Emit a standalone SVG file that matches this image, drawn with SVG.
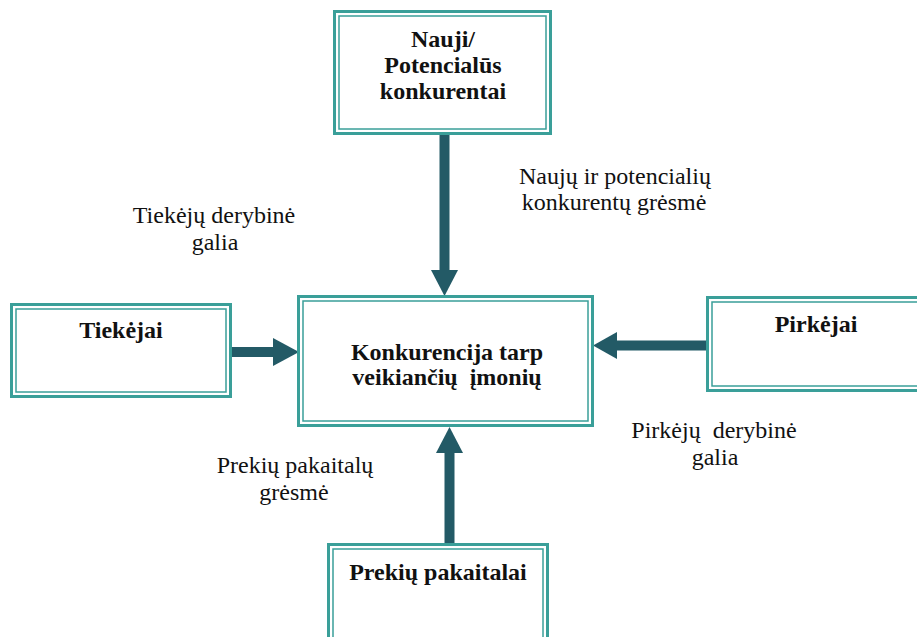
<svg xmlns="http://www.w3.org/2000/svg" width="917" height="637" viewBox="0 0 917 637">
<style>
.o{fill:#fff;stroke:#3a9f99;stroke-width:3}
.i{fill:none;stroke:#3a9f99;stroke-width:1.5}
text{font-family:'Liberation Serif','Times New Roman',Tinos,'Noto Serif','DejaVu Serif',serif;font-size:24px;fill:#111;text-anchor:middle}
.b{font-weight:bold}
.s{fill:none;stroke:#235a66;stroke-width:10}
.h{fill:#235a66}
</style>
<rect width="917" height="637" fill="#fff"/>
<g id="connectors">
<line class="s" x1="444.5" y1="135" x2="444.5" y2="272"/>
<polygon class="h" points="431,270 458,270 444.5,296"/>
<line class="s" x1="232" y1="352" x2="275" y2="352"/>
<polygon class="h" points="273,338 273,366 299,352"/>
<line class="s" x1="706" y1="345.5" x2="615" y2="345.5"/>
<polygon class="h" points="617,332 617,359 593,345.5"/>
<line class="s" x1="449.5" y1="543" x2="449.5" y2="451"/>
<polygon class="h" points="436,453 463,453 449.5,427"/>
</g>
<g id="naujiPotencialus">
<rect class="o" x="334.5" y="11.5" width="216" height="122"/>
<rect class="i" x="339" y="16" width="207" height="113"/>
<text class="b" x="443" y="47">Nauji/</text>
<text class="b" x="443" y="73">Potencialūs</text>
<text class="b" x="443" y="99">konkurentai</text>
</g>
<g id="tiekejai">
<rect class="o" x="11.5" y="304.5" width="219" height="92"/>
<rect class="i" x="16" y="309" width="210" height="83"/>
<text class="b" x="121" y="338">Tiekėjai</text>
</g>
<g id="konkurencija">
<rect class="o" x="298.5" y="296.5" width="294" height="129"/>
<rect class="i" x="303" y="301" width="285" height="120"/>
<text class="b" x="447" y="360">Konkurencija tarp</text>
<text class="b" x="447" y="385" xml:space="preserve">veikiančių  įmonių</text>
</g>
<g id="pirkejai">
<rect class="o" x="707.5" y="297.5" width="217" height="93"/>
<rect class="i" x="712" y="302" width="208" height="84"/>
<text class="b" x="816" y="332">Pirkėjai</text>
</g>
<g id="prekiuPakaitalai">
<rect class="o" x="328.5" y="544.5" width="219" height="100"/>
<rect class="i" x="333" y="549" width="210" height="91"/>
<text class="b" x="438" y="580">Prekių pakaitalai</text>
</g>
<g id="labels">
<text x="615" y="184">Naujų ir potencialių</text>
<text x="614" y="210">konkurentų grėsmė</text>
<text x="214" y="223">Tiekėjų derybinė</text>
<text x="215" y="250">galia</text>
<text x="295" y="473">Prekių pakaitalų</text>
<text x="294" y="500">grėsmė</text>
<text x="714" y="438" xml:space="preserve">Pirkėjų  derybinė</text>
<text x="715" y="465">galia</text>
</g>
</svg>
